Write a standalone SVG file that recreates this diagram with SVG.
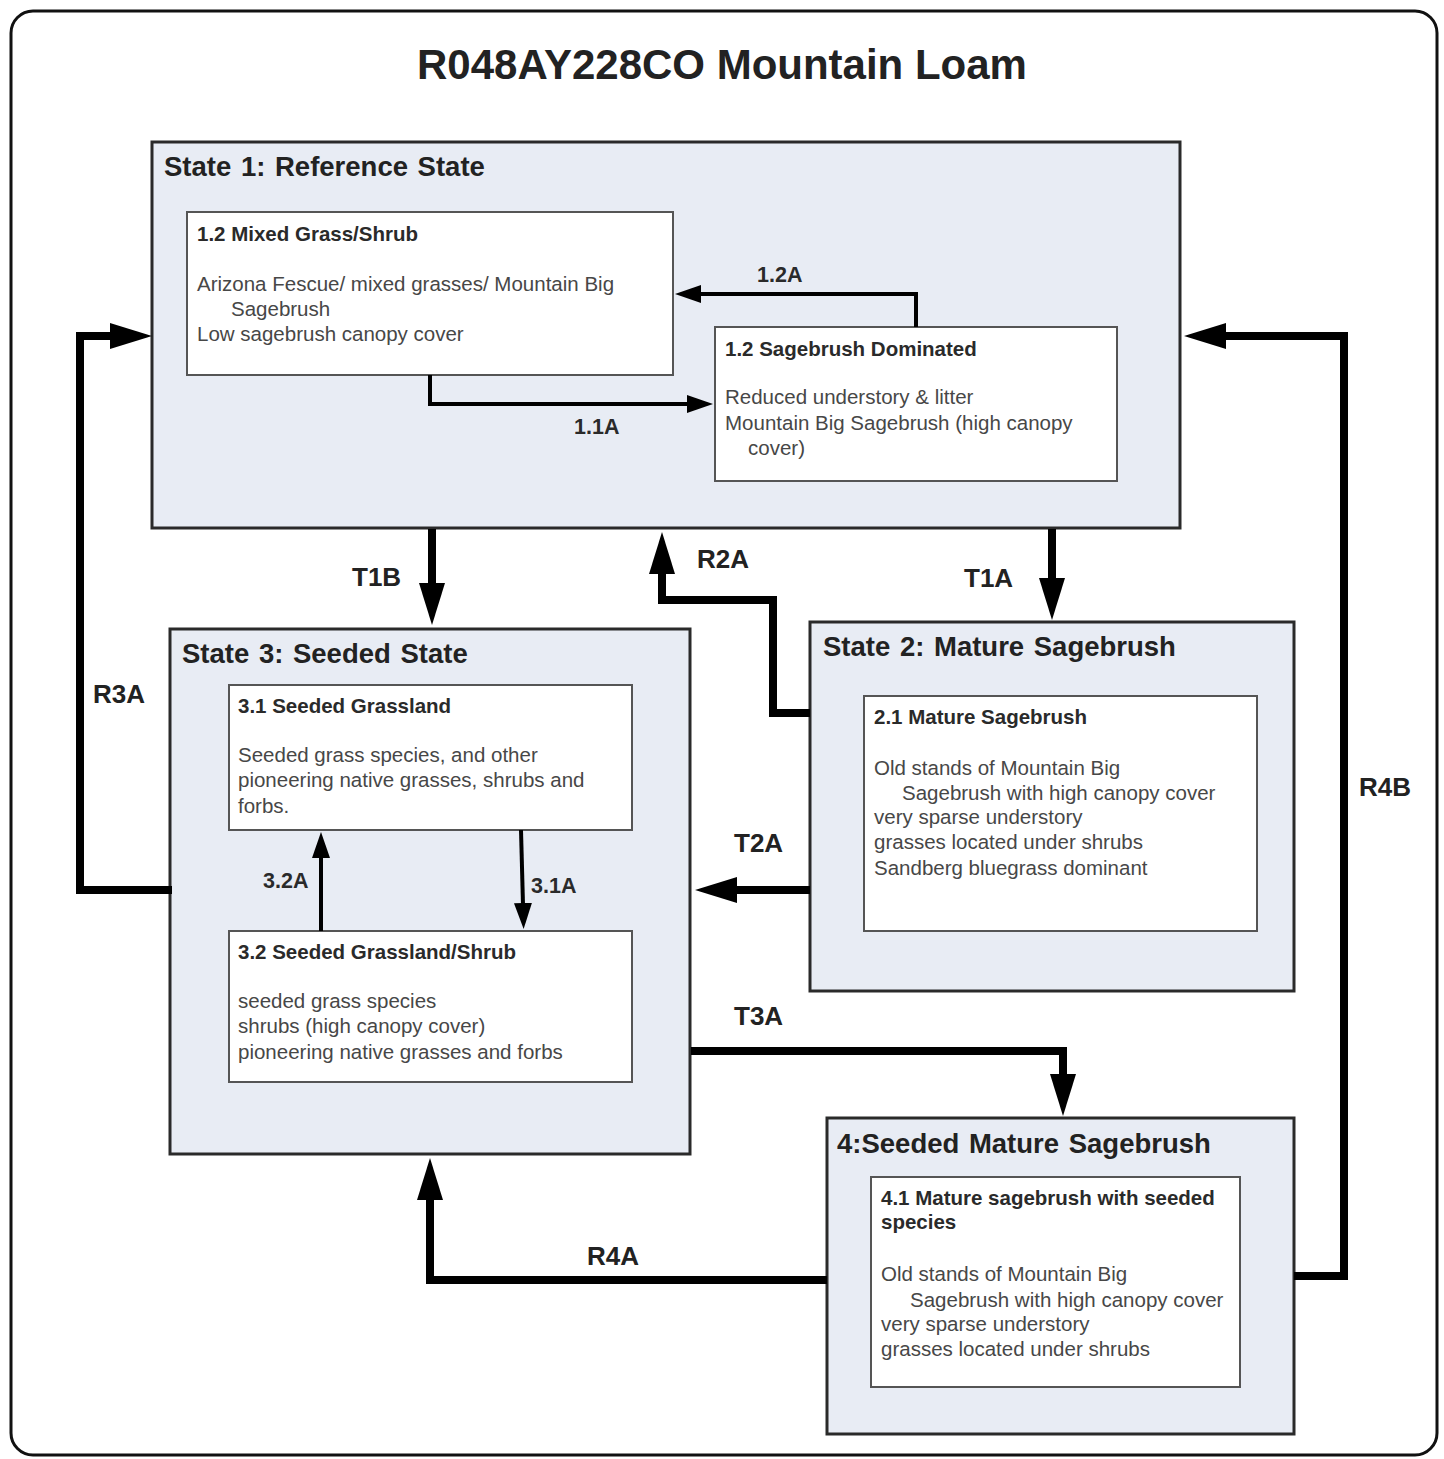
<svg xmlns="http://www.w3.org/2000/svg" width="1444" height="1459" viewBox="0 0 1444 1459">
<defs>
<style>
.state{fill:#e8ecf4;stroke:#2a2a2a;stroke-width:3}
.box{fill:#fff;stroke:#555;stroke-width:2}
.st{font-family:"Liberation Sans",Arial,sans-serif;font-weight:bold;font-size:27.5px;word-spacing:2px;fill:#222}
.bt{font-family:"Liberation Sans",Arial,sans-serif;font-weight:bold;font-size:20.5px;fill:#2a2a2a}
.tx{font-family:"Liberation Sans",Arial,sans-serif;font-size:20.5px;fill:#474747}
.lbl{font-family:"Liberation Sans",Arial,sans-serif;font-weight:bold;font-size:26px;fill:#222}
.slbl{font-family:"Liberation Sans",Arial,sans-serif;font-weight:bold;font-size:21.5px;fill:#2a2a2a}
.thick{fill:none;stroke:#000;stroke-width:8}
.thin{fill:none;stroke:#000;stroke-width:4}
</style>
<marker id="big" markerUnits="userSpaceOnUse" markerWidth="42" markerHeight="26" refX="2" refY="13" orient="auto">
<path d="M0,0 L42,13 L0,26 z" fill="#000"/>
</marker>
<marker id="small" markerUnits="userSpaceOnUse" markerWidth="26" markerHeight="18" refX="2" refY="9" orient="auto">
<path d="M0,0 L26,9 L0,18 z" fill="#000"/>
</marker>
</defs>
<rect x="0" y="0" width="1444" height="1459" fill="#fff"/>
<rect x="11" y="11" width="1426" height="1444" rx="22" fill="#fff" stroke="#111" stroke-width="3"/>
<text x="722" y="79" text-anchor="middle" font-family="Liberation Sans, Arial, sans-serif" font-weight="bold" font-size="42" fill="#222">R048AY228CO Mountain Loam</text>

<g id="state1">
<rect class="state" x="152" y="142" width="1028" height="386"/>
<text class="st" x="164" y="176">State 1: Reference State</text>
</g>
<g id="node-1-2-mixed">
<rect class="box" x="187" y="212" width="486" height="163"/>
<text class="bt" x="197" y="241">1.2 Mixed Grass/Shrub</text>
<text class="tx" x="197" y="291">Arizona Fescue/ mixed grasses/ Mountain Big</text>
<text class="tx" x="231" y="316">Sagebrush</text>
<text class="tx" x="197" y="341">Low sagebrush canopy cover</text>
</g>
<g id="node-1-2-sage">
<rect class="box" x="715" y="327" width="402" height="154"/>
<text class="bt" x="725" y="356">1.2 Sagebrush Dominated</text>
<text class="tx" x="725" y="404">Reduced understory &amp; litter</text>
<text class="tx" x="725" y="430">Mountain Big Sagebrush (high canopy</text>
<text class="tx" x="748" y="455">cover)</text>
</g>

<g id="state3">
<rect class="state" x="170" y="629" width="520" height="525"/>
<text class="st" x="182" y="663">State 3: Seeded State</text>
</g>
<g id="node-3-1">
<rect class="box" x="229" y="685" width="403" height="145"/>
<text class="bt" x="238" y="713">3.1 Seeded Grassland</text>
<text class="tx" x="238" y="762">Seeded grass species, and other</text>
<text class="tx" x="238" y="787">pioneering native grasses, shrubs and</text>
<text class="tx" x="238" y="813">forbs.</text>
</g>
<g id="node-3-2">
<rect class="box" x="229" y="931" width="403" height="151"/>
<text class="bt" x="238" y="959">3.2 Seeded Grassland/Shrub</text>
<text class="tx" x="238" y="1008">seeded grass species</text>
<text class="tx" x="238" y="1033">shrubs (high canopy cover)</text>
<text class="tx" x="238" y="1059">pioneering native grasses and forbs</text>
</g>

<g id="state2">
<rect class="state" x="810" y="622" width="484" height="369"/>
<text class="st" x="823" y="656">State 2: Mature Sagebrush</text>
</g>
<g id="node-2-1">
<rect class="box" x="864" y="696" width="393" height="235"/>
<text class="bt" x="874" y="724">2.1 Mature Sagebrush</text>
<text class="tx" x="874" y="775">Old stands of Mountain Big</text>
<text class="tx" x="902" y="800">Sagebrush with high canopy cover</text>
<text class="tx" x="874" y="824">very sparse understory</text>
<text class="tx" x="874" y="849">grasses located under shrubs</text>
<text class="tx" x="874" y="875">Sandberg bluegrass dominant</text>
</g>

<g id="state4">
<rect class="state" x="827" y="1118" width="467" height="316"/>
<text class="st" x="837" y="1153">4:Seeded Mature Sagebrush</text>
</g>
<g id="node-4-1">
<rect class="box" x="871" y="1177" width="369" height="210"/>
<text class="bt" x="881" y="1205">4.1 Mature sagebrush with seeded</text>
<text class="bt" x="881" y="1229">species</text>
<text class="tx" x="881" y="1281">Old stands of Mountain Big</text>
<text class="tx" x="910" y="1307">Sagebrush with high canopy cover</text>
<text class="tx" x="881" y="1331">very sparse understory</text>
<text class="tx" x="881" y="1356">grasses located under shrubs</text>
</g>

<g id="connectors">
<path class="thin" d="M916,327 V294 H699" marker-end="url(#small)"/>
<path class="thin" d="M430,375 V404 H689" marker-end="url(#small)"/>
<path class="thin" d="M321,931 V856" marker-end="url(#small)"/>
<path class="thin" d="M521,830 L523,905" marker-end="url(#small)"/>
<path class="thick" d="M432,529 V585" marker-end="url(#big)"/>
<path class="thick" d="M1052,529 V580" marker-end="url(#big)"/>
<path class="thick" d="M810,713 H773 V600 H662 V572" marker-end="url(#big)"/>
<path class="thick" d="M810,890 H735" marker-end="url(#big)"/>
<path class="thick" d="M691,1051 H1063 V1076" marker-end="url(#big)"/>
<path class="thick" d="M827,1280 H430 V1198" marker-end="url(#big)"/>
<path class="thick" d="M1294,1276 H1344 V336 H1224" marker-end="url(#big)"/>
<path class="thick" d="M172,890 H80 V336 H112" marker-end="url(#big)"/>
<text class="slbl" x="757" y="282">1.2A</text>
<text class="slbl" x="574" y="434">1.1A</text>
<text class="slbl" x="263" y="888">3.2A</text>
<text class="slbl" x="531" y="893">3.1A</text>
<text class="lbl" x="352" y="586">T1B</text>
<text class="lbl" x="964" y="587">T1A</text>
<text class="lbl" x="697" y="568">R2A</text>
<text class="lbl" x="734" y="852">T2A</text>
<text class="lbl" x="734" y="1025">T3A</text>
<text class="lbl" x="587" y="1265">R4A</text>
<text class="lbl" x="1359" y="796">R4B</text>
<text class="lbl" x="93" y="703">R3A</text>
</g>
</svg>
